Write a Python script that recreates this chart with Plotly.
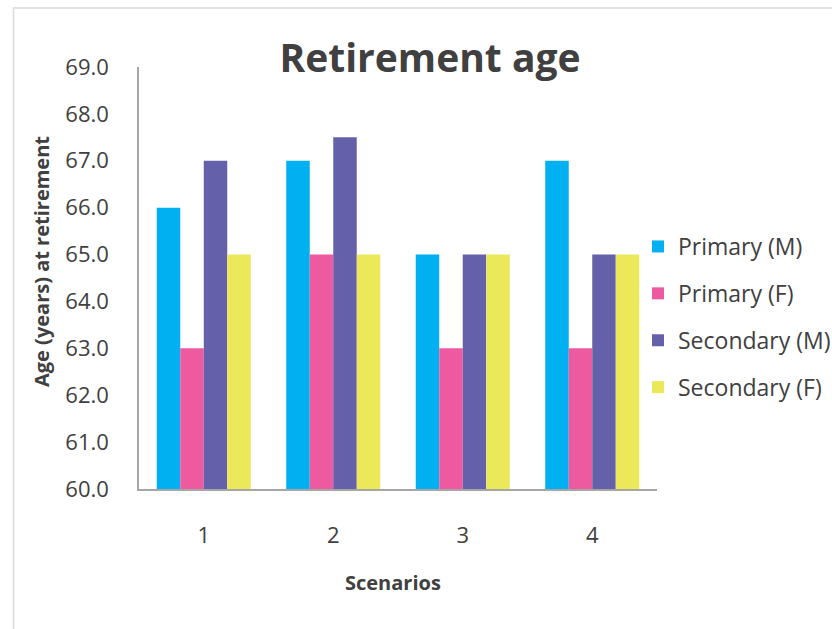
import plotly.graph_objects as go

scenarios = ["1", "2", "3", "4"]
primary_m = [66.0, 67.0, 65.0, 67.0]
primary_f = [63.0, 65.0, 63.0, 63.0]
secondary_m = [67.0, 67.5, 65.0, 65.0]
secondary_f = [65.0, 65.0, 65.0, 65.0]

series = [
    ("Primary (M)", primary_m, "#00B0F0"),
    ("Primary (F)", primary_f, "#EE5AA0"),
    ("Secondary (M)", secondary_m, "#6460AA"),
    ("Secondary (F)", secondary_f, "#EBE85A"),
]

FONT = "Open Sans"
TXT = "#404040"

W, H = 832, 629
L, R, T, B = 139, 175, 67, 140
PW, PH = W - L - R, H - T - B


def px_x(px):
    return (px - L) / PW


def px_y(py):
    return (H - B - py) / PH


fig = go.Figure()
for i, (name, vals, col) in enumerate(series):
    fig.add_trace(go.Bar(
        x=scenarios, y=vals, name=name, marker_color=col,
        marker_line_width=0, legendgroup=f"g{i}",
    ))

fig.update_layout(
    width=W, height=H,
    margin=dict(l=L, r=R, t=T, b=B, autoexpand=False),
    paper_bgcolor="white", plot_bgcolor="white",
    barmode="group", bargap=0.274, bargroupgap=0,
    font=dict(family=FONT, color=TXT),
    title=dict(
        text="<b>Retirement age</b>", font=dict(size=39, color=TXT, family=FONT),
        x=430 / W, xanchor="center", xref="paper" if False else "container",
        y=1 - 58 / H, yanchor="middle", yref="container",
    ),
    xaxis=dict(
        type="category", showline=True, linecolor="#A6A6A6", linewidth=1.5,
        showgrid=False, ticks="", tickfont=dict(size=22, color=TXT, family=FONT),
        ticklabelstandoff=26, zeroline=False,
    ),
    yaxis=dict(
        range=[60, 69], dtick=1, tickformat=".1f", showline=True,
        linecolor="#A6A6A6", linewidth=1.5, showgrid=False, ticks="",
        tickfont=dict(size=22, color=TXT, family=FONT), ticklabelstandoff=24,
        zeroline=False,
    ),
    legend=dict(
        x=px_x(638), xanchor="left", y=px_y(317), yanchor="middle",
        font=dict(size=23, color=TXT, family=FONT),
        traceorder="grouped", tracegroupgap=14, bgcolor="rgba(0,0,0,0)",
    ),
    annotations=[
        dict(text="<b>Age (years) at retirement</b>", textangle=-90,
             xref="paper", yref="paper", x=px_x(41), y=px_y(262),
             xanchor="center", yanchor="middle", showarrow=False,
             font=dict(size=20, color=TXT, family=FONT)),
        dict(text="<b>Scenarios</b>",
             xref="paper", yref="paper", x=px_x(393), y=px_y(582),
             xanchor="center", yanchor="middle", showarrow=False,
             font=dict(size=20, color=TXT, family=FONT)),
    ],
    shapes=[
        dict(type="rect", xref="paper", yref="paper",
             x0=px_x(13.5), y0=px_y(8), x1=px_x(900), y1=px_y(700),
             line=dict(color="#D9D9D9", width=1.5), fillcolor="rgba(0,0,0,0)",
             layer="below"),
    ],
)

fig.write_html("out.html")
